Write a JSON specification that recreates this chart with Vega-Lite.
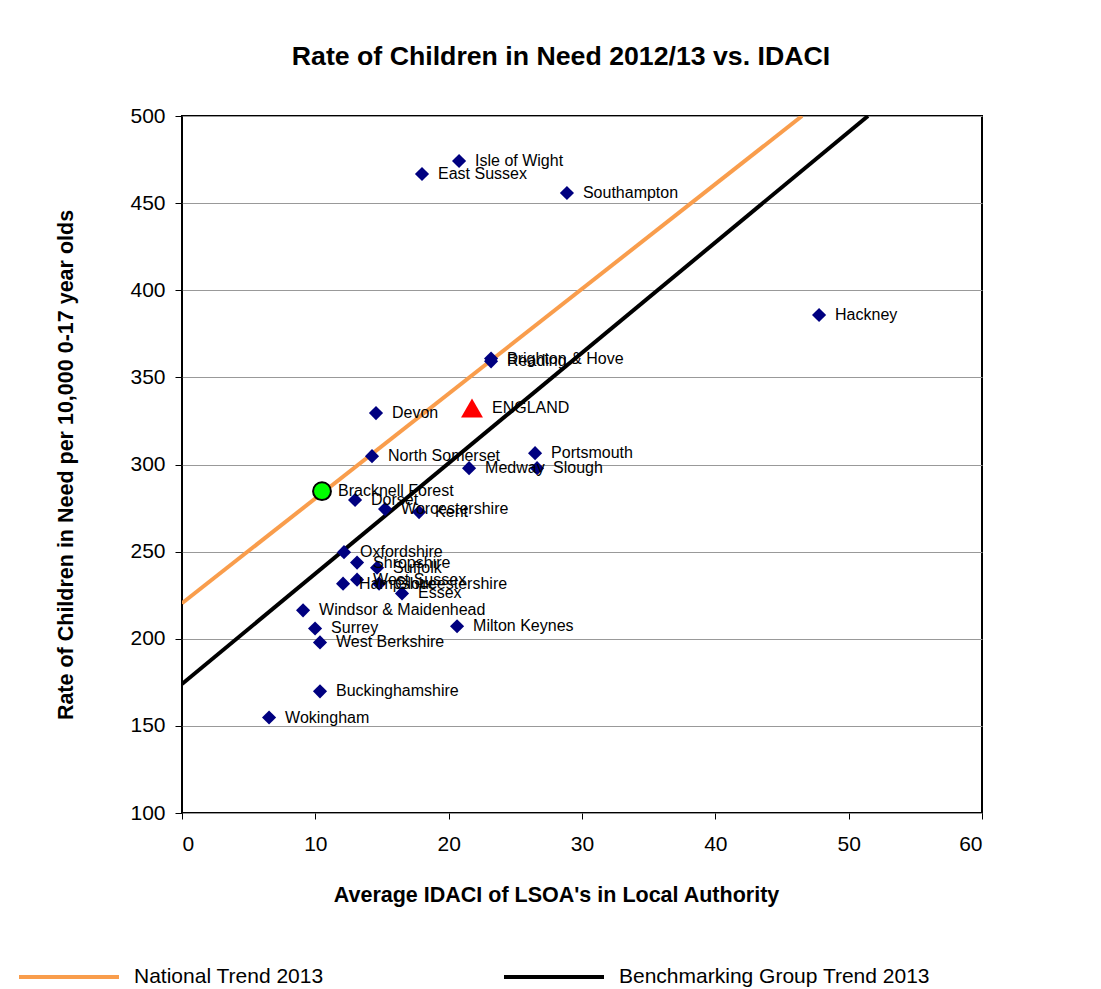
{
  "$schema": "https://vega.github.io/schema/vega-lite/v6.json",
  "width": 800,
  "height": 697,
  "autosize": {"type": "none"},
  "padding": {"left": 182, "top": 116, "right": 119, "bottom": 176},
  "background": "white",
  "title": {
    "text": "Rate of Children in Need 2012/13 vs. IDACI",
    "font": "Liberation Sans",
    "fontSize": 26.7,
    "fontWeight": "bold",
    "color": "black",
    "anchor": "middle",
    "offset": 34,
    "dx": -21
  },
  "config": {
    "font": "Liberation Sans",
    "view": {"stroke": "black", "strokeWidth": 2},
    "axis": {
      "domain": false,
      "tickColor": "black",
      "tickWidth": 1,
      "labelColor": "black",
      "labelFont": "Liberation Sans",
      "labelFontSize": 21,
      "titleFont": "Liberation Sans",
      "titleFontSize": 21.5,
      "titleFontWeight": "bold",
      "titleColor": "black"
    }
  },
  "datasets": {
    "las": [
      {"name": "Isle of Wight", "idaci": 20.78, "cin": 474.2, "kind": "LA"},
      {"name": "East Sussex", "idaci": 18.0, "cin": 466.7, "kind": "LA"},
      {"name": "Southampton", "idaci": 28.87, "cin": 455.8, "kind": "LA"},
      {"name": "Hackney", "idaci": 47.78, "cin": 385.8, "kind": "LA"},
      {"name": "Brighton & Hove", "idaci": 23.18, "cin": 360.8, "kind": "LA"},
      {"name": "Reading", "idaci": 23.18, "cin": 359.2, "kind": "LA"},
      {"name": "Devon", "idaci": 14.55, "cin": 329.5, "kind": "LA"},
      {"name": "North Somerset", "idaci": 14.25, "cin": 304.8, "kind": "LA"},
      {"name": "Portsmouth", "idaci": 26.48, "cin": 306.5, "kind": "LA"},
      {"name": "Medway", "idaci": 21.53, "cin": 297.9, "kind": "LA"},
      {"name": "Slough", "idaci": 26.63, "cin": 297.9, "kind": "LA"},
      {"name": "Dorset", "idaci": 12.98, "cin": 279.6, "kind": "LA"},
      {"name": "Worcestershire", "idaci": 15.23, "cin": 274.4, "kind": "LA"},
      {"name": "Kent", "idaci": 17.78, "cin": 272.7, "kind": "LA"},
      {"name": "Oxfordshire", "idaci": 12.15, "cin": 249.7, "kind": "LA"},
      {"name": "Shropshire", "idaci": 13.13, "cin": 243.7, "kind": "LA"},
      {"name": "Suffolk", "idaci": 14.63, "cin": 240.8, "kind": "LA"},
      {"name": "West Sussex", "idaci": 13.13, "cin": 233.9, "kind": "LA"},
      {"name": "Hampshire", "idaci": 12.08, "cin": 231.6, "kind": "LA"},
      {"name": "Gloucestershire", "idaci": 14.78, "cin": 231.6, "kind": "LA"},
      {"name": "Essex", "idaci": 16.5, "cin": 226.0, "kind": "LA"},
      {"name": "Windsor & Maidenhead", "idaci": 9.08, "cin": 216.3, "kind": "LA"},
      {"name": "Surrey", "idaci": 9.98, "cin": 205.9, "kind": "LA"},
      {"name": "West Berkshire", "idaci": 10.35, "cin": 197.9, "kind": "LA"},
      {"name": "Milton Keynes", "idaci": 20.63, "cin": 207.2, "kind": "LA"},
      {"name": "Buckinghamshire", "idaci": 10.35, "cin": 169.8, "kind": "LA"},
      {"name": "Wokingham", "idaci": 6.53, "cin": 154.8, "kind": "LA"},
      {"name": "Bracknell Forest", "idaci": 10.5, "cin": 284.7, "kind": "focus"},
      {"name": "ENGLAND", "idaci": 21.75, "cin": 332.4, "kind": "england"}
    ],
    "trend": [
      {"series": "National Trend 2013", "idaci": 0, "cin": 220.4},
      {"series": "National Trend 2013", "idaci": 46.5, "cin": 500},
      {"series": "Benchmarking Group Trend 2013", "idaci": 0, "cin": 174.0},
      {"series": "Benchmarking Group Trend 2013", "idaci": 51.45, "cin": 500}
    ]
  },
  "layer": [
    {
      "data": {"name": "trend"},
      "mark": {"type": "line", "strokeWidth": 4, "clip": true},
      "encoding": {
        "x": {
          "field": "idaci",
          "type": "quantitative",
          "scale": {"domain": [0, 60], "nice": false},
          "axis": {
            "title": "Average IDACI of LSOA's in Local Authority",
            "values": [0, 10, 20, 30, 40, 50, 60],
            "grid": false,
            "tickSize": 6,
            "labelPadding": 14,
            "titlePadding": 30,
            "titleX": 374
          }
        },
        "y": {
          "field": "cin",
          "type": "quantitative",
          "scale": {"domain": [100, 500], "nice": false},
          "axis": {
            "title": "Rate of Children in Need per 10,000 0-17 year olds",
            "values": [100, 150, 200, 250, 300, 350, 400, 450, 500],
            "grid": true,
            "gridColor": "#999999",
            "gridWidth": 1,
            "tickSize": 7,
            "labelPadding": 10,
            "titlePadding": 52
          }
        },
        "color": {
          "field": "series",
          "type": "nominal",
          "scale": {
            "domain": ["National Trend 2013", "Benchmarking Group Trend 2013"],
            "range": ["#F99D4C", "#000000"]
          },
          "legend": {
            "title": null,
            "orient": "none",
            "legendX": -125,
            "legendY": 849,
            "direction": "horizontal",
            "padding": 0,
            "symbolType": "M-5,0L5,0",
            "symbolSize": 400,
            "symbolStrokeWidth": 4,
            "labelFont": "Liberation Sans",
            "labelFontSize": 21,
            "labelColor": "black",
            "labelOffset": 53,
            "labelLimit": 0,
            "columnPadding": 172
          }
        },
        "detail": {"field": "series"}
      }
    },
    {
      "data": {"name": "las"},
      "transform": [{"filter": "datum.kind === 'LA'"}],
      "mark": {"type": "point", "shape": "diamond", "filled": true, "color": "#000080", "size": 200, "opacity": 1},
      "encoding": {
        "x": {"field": "idaci", "type": "quantitative"},
        "y": {"field": "cin", "type": "quantitative"}
      }
    },
    {
      "data": {"name": "las"},
      "transform": [{"filter": "datum.kind === 'england'"}],
      "mark": {"type": "point", "shape": "triangle-up", "filled": true, "color": "#FF0000", "size": 480, "opacity": 1},
      "encoding": {
        "x": {"field": "idaci", "type": "quantitative"},
        "y": {"field": "cin", "type": "quantitative"}
      }
    },
    {
      "data": {"name": "las"},
      "transform": [{"filter": "datum.kind === 'focus'"}],
      "mark": {"type": "point", "shape": "circle", "filled": true, "fill": "#00FF00", "stroke": "black", "strokeWidth": 2, "size": 320, "opacity": 1},
      "encoding": {
        "x": {"field": "idaci", "type": "quantitative"},
        "y": {"field": "cin", "type": "quantitative"}
      }
    },
    {
      "data": {"name": "las"},
      "transform": [{"filter": "datum.kind !== 'england'"}],
      "mark": {"type": "text", "align": "left", "baseline": "middle", "dx": 16, "fontSize": 16, "font": "Liberation Sans", "color": "black"},
      "encoding": {
        "x": {"field": "idaci", "type": "quantitative"},
        "y": {"field": "cin", "type": "quantitative"},
        "text": {"field": "name"}
      }
    },
    {
      "data": {"name": "las"},
      "transform": [{"filter": "datum.kind === 'england'"}],
      "mark": {"type": "text", "align": "left", "baseline": "middle", "dx": 20, "fontSize": 16, "font": "Liberation Sans", "color": "black"},
      "encoding": {
        "x": {"field": "idaci", "type": "quantitative"},
        "y": {"field": "cin", "type": "quantitative"},
        "text": {"field": "name"}
      }
    }
  ]
}
